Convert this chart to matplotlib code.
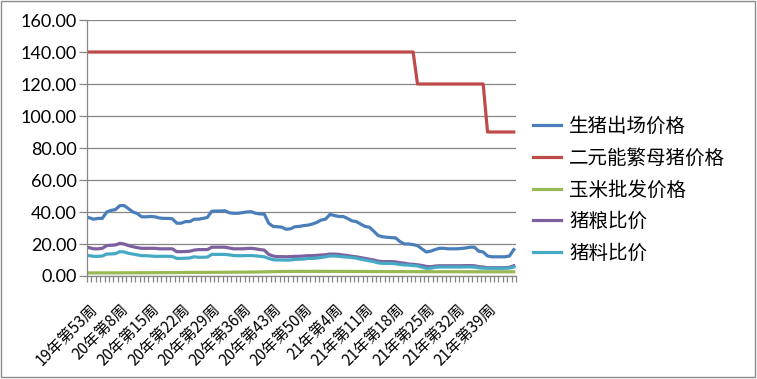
import matplotlib
matplotlib.use("Agg")
import matplotlib.pyplot as plt
from matplotlib.patches import Rectangle
from matplotlib.transforms import ScaledTranslation
import numpy as np

# %% Data
week_labels = ["19年第53周", "20年第8周", "20年第15周", "20年第22周", "20年第29周",
               "20年第36周", "20年第43周", "20年第50周", "21年第4周", "21年第11周",
               "21年第18周", "21年第25周", "21年第32周", "21年第39周"]
n_weeks = 98
label_step = 7

hog_price = [36.4, 35.5, 36, 36, 40, 41, 41.5, 44, 44, 42, 40, 39, 37, 37, 37.2, 37, 36.3, 36, 36, 35.8,
             33, 33, 34, 34, 35.5,
             35.5, 36, 36.6, 40.5, 40.6, 40.6, 40.8, 39.5, 39.2, 39.2, 39.6, 40, 40.2, 39.2, 38.8,
             38.7, 33, 31, 30.8, 30.5, 29.2, 29.5, 30.8, 31,
             31.5, 31.8, 32.5, 33.5, 35, 35.5, 38.5, 37.8, 37.2, 37.2, 36, 34.5, 34, 32.5, 31,
             30.5, 28, 25.3, 24.5, 24.2, 24, 23.8, 21.5, 20,
             20, 19.6, 19, 17, 15, 15.5, 16.5, 17.3, 17.3, 17, 17, 17, 17.2, 17.5, 18,
             18, 15.5, 15, 12.5, 12, 12, 12, 12, 12.5, 16.5]

sow_price = [140] * 75 + [120] * 16 + [90] * 7

corn_price = [1.95, 1.95, 1.96, 1.96, 1.97, 1.97, 1.98, 1.98, 1.99, 2.0, 2.0, 2.01, 2.02, 2.03, 2.05,
              2.07, 2.09, 2.1, 2.12, 2.14, 2.15, 2.17, 2.2, 2.21, 2.22,
              2.23, 2.24, 2.26, 2.28, 2.3, 2.31, 2.33, 2.35, 2.38, 2.4, 2.42, 2.45, 2.48, 2.5, 2.55,
              2.6, 2.66, 2.72, 2.78, 2.82, 2.85, 2.87, 2.88, 2.9,
              2.9, 2.9, 2.91, 2.91, 2.9, 2.9, 2.89, 2.89, 2.88, 2.88, 2.87, 2.86, 2.85, 2.84, 2.83,
              2.82, 2.8, 2.8, 2.79, 2.78, 2.77, 2.76, 2.75, 2.74,
              2.73, 2.72, 2.72, 2.71, 2.7, 2.7, 2.69, 2.69, 2.68, 2.68, 2.67, 2.67, 2.66, 2.66, 2.66,
              2.65, 2.65, 2.65, 2.64, 2.64, 2.64, 2.63, 2.63, 2.63, 2.63]

hog_grain_ratio = [17.7, 17, 17, 17.3, 19, 19.2, 19.4, 20.4, 20, 19, 18.3, 17.7, 17.3, 17.3, 17.3,
                   17.3, 17, 17, 17, 17, 15.2, 15.2, 15.3, 15.5, 16.2,
                   16.5, 16.5, 16.5, 18, 18, 18, 18, 17.5, 17, 17, 17, 17.2, 17.3, 17, 16.5,
                   16.2, 13.5, 12.5, 12.1, 12.1, 12, 12.1, 12.3, 12.3,
                   12.5, 12.7, 12.7, 12.9, 13.1, 13.3, 13.7, 13.7, 13.5, 13.1, 12.8, 12.3, 12, 11.5, 11,
                   10.5, 10, 9.3, 9, 9, 9, 8.8, 8.3, 8,
                   7.5, 7.3, 7, 6.6, 6, 5.8, 6.2, 6.4, 6.4, 6.4, 6.4, 6.4, 6.4, 6.5, 6.5,
                   6.4, 5.8, 5.6, 5.2, 5.2, 5.2, 5.2, 5.2, 5.4, 6.4]

hog_feed_ratio = [12.7, 12.3, 12.3, 12.5, 13.7, 13.8, 14, 15.2, 15, 14.2, 13.7, 13.2, 12.7, 12.7, 12.5,
                  12.3, 12.3, 12.3, 12.3, 12.2, 11, 11, 11.1, 11.3, 12,
                  11.7, 11.7, 11.8, 13.5, 13.5, 13.5, 13.5, 13.2, 12.8, 12.7, 12.7, 12.8, 12.8, 12.6, 12.3,
                  12, 11, 10.2, 10, 10, 9.9, 10, 10.4, 10.5,
                  10.6, 11, 11, 11.2, 11.6, 12, 12.5, 12.5, 12.3, 12, 11.8, 11.5, 11.2, 10.5, 10,
                  9.5, 9, 8.2, 7.9, 7.9, 7.9, 7.6, 7.2, 6.9,
                  6.8, 6.5, 6.3, 5.5, 4.8, 4.9, 5.4, 5.6, 5.6, 5.6, 5.6, 5.6, 5.6, 5.7, 5.7,
                  5.6, 5.1, 4.9, 4.8, 4.8, 4.8, 4.8, 4.8, 5, 5.6]

series_names = ["生猪出场价格", "二元能繁母猪价格", "玉米批发价格", "猪粮比价", "猪料比价"]
series_colors = ["#4A7EBB", "#BE4B48", "#98B954", "#7D60A0", "#46AAC5"]

# %% Plot
plt.rcParams['font.family'] = ['Noto Sans CJK SC', 'DejaVu Sans']
fig = plt.figure(figsize=(7.57, 3.79), dpi=100)
ax = fig.add_axes([87 / 757, 1 - 276 / 379, (516 - 87) / 757, (276 - 20) / 379])

x = np.arange(n_weeks)
all_series = [hog_price, sow_price, corn_price, hog_grain_ratio, hog_feed_ratio]
for values, name, color in zip(all_series, series_names, series_colors):
    ax.plot(x, values, color=color, lw=2.3, label=name, solid_joinstyle="round")

grid_color = "#868686"
ax.set_xlim(-0.5, n_weeks - 0.5)
ax.set_ylim(0, 160)
ax.set_yticks(np.arange(0, 161, 20))
ax.set_yticklabels([f"{v:.2f}" for v in np.arange(0, 161, 20)], family="Lato", fontsize=13)
ax.yaxis.grid(True, color=grid_color, lw=0.9)
ax.set_axisbelow(True)

# labels hang from their top-right corner, a bit right of the category
ax.set_xticks(np.arange(0, n_weeks, label_step))
ax.set_xticklabels(week_labels, rotation=45, ha="right", va="top",
                   rotation_mode="anchor", fontsize=11)
shift = ScaledTranslation(9 / 100, 0, fig.dpi_scale_trans)
for lab in ax.get_xticklabels():
    lab.set_transform(lab.get_transform() + shift)
ax.set_xticks(np.arange(-0.5, n_weeks, 1), minor=True)
ax.tick_params(axis="x", which="major", length=0, pad=18)
ax.tick_params(axis="x", which="minor", length=4.5, color=grid_color, width=0.9)
ax.tick_params(axis="y", length=5.5, color=grid_color, width=0.9, pad=2)

for side in ["top", "right"]:
    ax.spines[side].set_visible(False)
for side in ["left", "bottom"]:
    ax.spines[side].set_color(grid_color)
    ax.spines[side].set_linewidth(0.9)

fig.legend(loc="center left", bbox_to_anchor=(533 / 757, 1 - 190 / 379), frameon=False,
           fontsize=14, handlelength=1.45, handletextpad=0.4, labelspacing=0.55,
           borderpad=0, borderaxespad=0)

fig.patches.append(Rectangle((1 / 757, 2 / 379), 754 / 757, 376 / 379, transform=fig.transFigure,
                             fill=False, ec="#8c8c8c", lw=1))

fig.savefig("out.png", dpi=100)
